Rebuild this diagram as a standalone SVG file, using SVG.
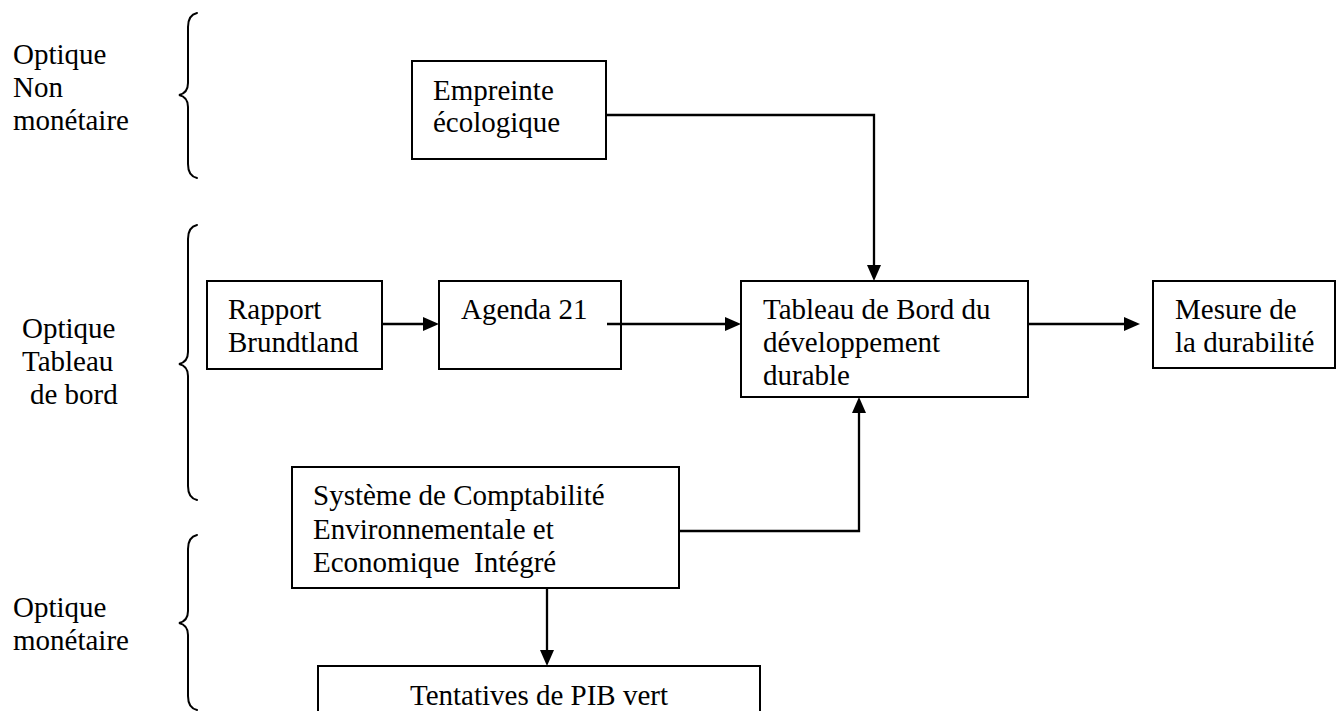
<svg xmlns="http://www.w3.org/2000/svg" width="1336" height="711" viewBox="0 0 1336 711">
  <style>
    text { font-family: "Liberation Serif", "Times New Roman", serif; font-size: 29px; fill: #000; }
    .box { fill: #fff; stroke: #000; stroke-width: 2; }
    .wire { fill: none; stroke: #000; stroke-width: 2.3; }
    .brace { fill: none; stroke: #000; stroke-width: 2; stroke-linecap: round; }
    .pre { white-space: pre; }
  </style>
  <defs>
    <marker id="arrow" viewBox="0 0 16 14" markerWidth="16" markerHeight="14" refX="0" refY="7" orient="auto" markerUnits="userSpaceOnUse">
      <path d="M0,0 L16,7 L0,14 z" fill="#000"/>
    </marker>
  </defs>
  <rect width="1336" height="711" fill="#fff"/>

  <!-- side labels with braces -->
  <g id="label-non-monetaire">
    <text x="13" y="64">Optique</text>
    <text x="13" y="97">Non</text>
    <text x="13" y="130">monétaire</text>
    <path class="brace" d="M197,13 Q188,15 188,27 V83 Q188,93 179,95 Q188,97 188,107 V164 Q188,176 197,178"/>
  </g>
  <g id="label-tableau-de-bord">
    <text x="22" y="338">Optique</text>
    <text x="22" y="371">Tableau</text>
    <text x="30" y="404">de bord</text>
    <path class="brace" d="M197,225 Q188,227 188,239 V352 Q188,362 179,364 Q188,366 188,376 V486 Q188,498 197,500"/>
  </g>
  <g id="label-monetaire">
    <text x="13" y="617">Optique</text>
    <text x="13" y="650">monétaire</text>
    <path class="brace" d="M197,535 Q188,537 188,549 V611 Q188,621 179,623 Q188,625 188,635 V696 Q188,708 197,710"/>
  </g>

  <!-- nodes -->
  <g id="node-empreinte">
    <rect class="box" x="412" y="61" width="194" height="98"/>
    <text x="433" y="100">Empreinte</text>
    <text x="433" y="132">écologique</text>
  </g>
  <g id="node-rapport">
    <rect class="box" x="207" y="281" width="175" height="88"/>
    <text x="228" y="319">Rapport</text>
    <text x="228" y="352">Brundtland</text>
  </g>
  <g id="node-agenda">
    <rect class="box" x="439" y="281" width="182" height="88"/>
    <text x="461" y="319">Agenda 21</text>
  </g>
  <g id="node-tableau">
    <rect class="box" x="741" y="281" width="287" height="116"/>
    <text x="763" y="319">Tableau de Bord du</text>
    <text x="763" y="352">développement</text>
    <text x="763" y="385">durable</text>
  </g>
  <g id="node-mesure">
    <rect class="box" x="1153" y="281" width="182" height="87"/>
    <text x="1175" y="319">Mesure de</text>
    <text x="1175" y="352">la durabilité</text>
  </g>
  <g id="node-sceei">
    <rect class="box" x="292" y="467" width="387" height="121"/>
    <text x="313" y="505">Système de Comptabilité</text>
    <text x="313" y="539">Environnementale et</text>
    <text class="pre" x="313" y="572">Economique  Intégré</text>
  </g>
  <g id="node-pib-vert">
    <rect class="box" x="318" y="666" width="442" height="80"/>
    <text x="539" y="705" text-anchor="middle">Tentatives de PIB vert</text>
  </g>

  <!-- connectors (drawn last: the Agenda 21 link starts inside its box) -->
  <g id="connectors">
    <path class="wire" d="M606,115 H874 V265" marker-end="url(#arrow)"/>
    <path class="wire" d="M382,324 H423" marker-end="url(#arrow)"/>
    <path class="wire" d="M607,324 H725" marker-end="url(#arrow)"/>
    <path class="wire" d="M1028,324 H1124" marker-end="url(#arrow)"/>
    <path class="wire" d="M679,531 H859 V413" marker-end="url(#arrow)"/>
    <path class="wire" d="M547,588 V650" marker-end="url(#arrow)"/>
  </g>
</svg>
